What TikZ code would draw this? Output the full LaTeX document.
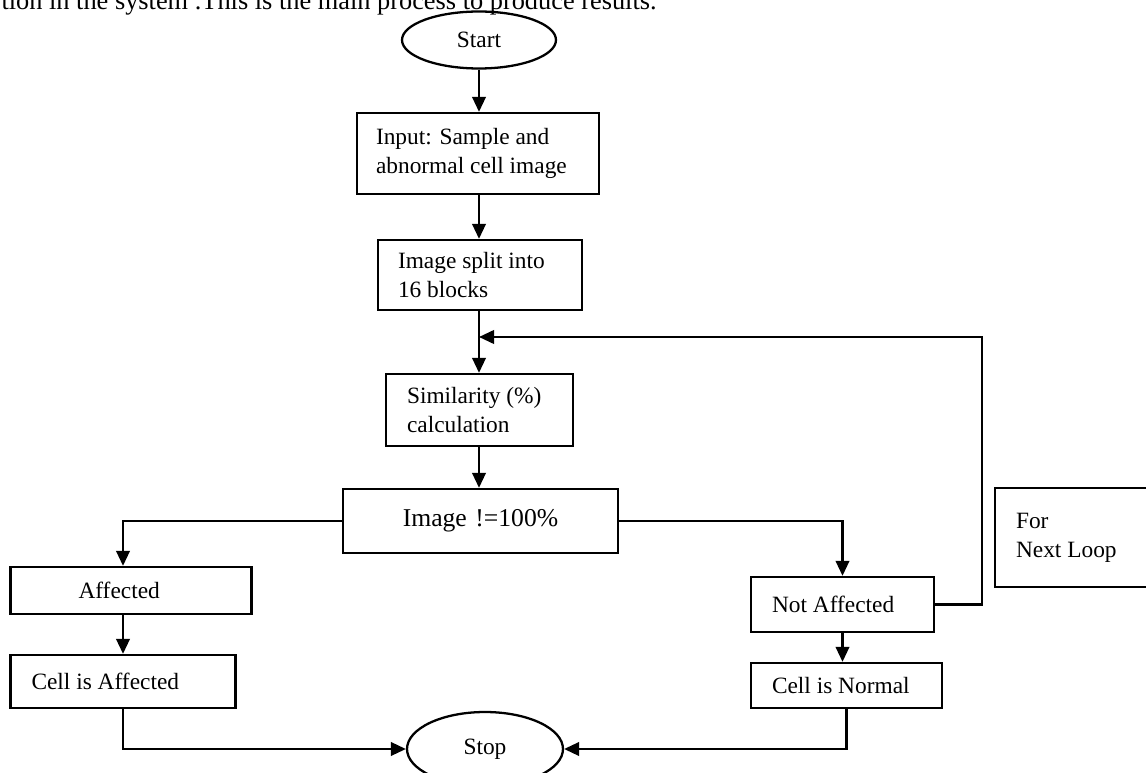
\documentclass[tikz,border=0pt]{standalone}
\usepackage{fontspec}
\setmainfont{Liberation Serif}
\usetikzlibrary{arrows.meta,shapes.geometric}

\tikzset{
    box/.style={draw, line width=1.3pt, align=flush left, inner xsep=0.42cm, inner ysep=0pt,
        font=\fontsize{13.3}{16.5}\selectfont},
    term/.style={draw, ellipse, line width=1.3pt, inner sep=0pt,
        font=\fontsize{13.3}{16.5}\selectfont},
    flow/.style={line width=1.3pt, -{Triangle[length=0.3cm,width=0.27cm]}},
    plain/.style={line width=1.3pt}
}

\begin{document}
\begin{tikzpicture}[x=0.02cm, y=-0.02cm]
        % Fix the page size (pixel grid of the figure)
        \useasboundingbox (0,0) rectangle (1146,773);

        % Running text cut off at the top
        \node[anchor=base east, inner sep=0pt, font=\fontsize{15}{18}\selectfont] (toptext) at (657,10)
            {tion in the system .This is the main process to produce results.};

        % Start and stop
        \node[term, minimum width=3.08cm, minimum height=1.14cm] (start) at (479,40) {Start};
        \node[term, minimum width=3.12cm, minimum height=1.48cm] (stop) at (485,749) {Stop};

        % Main column
        \node[box, inner xsep=0.38cm, text width=4.08cm, minimum height=1.62cm] (input) at (478,153.5)
            {Input: Sample and\\abnormal cell image};
        \node[box, inner xsep=0.40cm, text width=3.28cm, minimum height=1.40cm] (split) at (480,275)
            {Image split into\\16 blocks};
        \node[box, text width=2.90cm, minimum height=1.44cm] (sim) at (479.5,410)
            {Similarity (\%)\\calculation};
        \node[box, align=center, text width=4.66cm, minimum height=1.28cm,
            font=\fontsize{14.6}{17}\selectfont] (image) at (480.5,521) {Image !=100\%};

        % Left branch
        \node[box, inner xsep=1.36cm, text width=2.10cm, minimum height=0.94cm] (affected) at (131,590.5)
            {Affected};
        \node[box, text width=3.66cm, minimum height=1.06cm] (cellaff) at (123,681.5)
            {Cell is Affected};

        % Right branch
        \node[box, text width=2.82cm, minimum height=1.10cm] (notaff) at (842.5,604.5)
            {Not Affected};
        \node[box, text width=2.98cm, minimum height=0.90cm] (cellnorm) at (846.5,685.5)
            {Cell is Normal};

        % Loop note
        \node[box, text width=2.46cm, minimum height=1.98cm] (forloop) at (1077.5,537.5)
            {For\\Next Loop};

        % Connectors down the middle
        \draw[flow] (start.south) -- (input.north -| start.south);
        \draw[flow] (input.south -| start.south) -- (split.north -| start.south);
        \draw[flow] (split.south -| start.south) -- (sim.north -| start.south);
        \draw[flow] (sim.south -| start.south) -- (image.north -| start.south);

        % Decision branches
        \draw[flow] (image.west) -| (affected.north -| cellaff.north);
        \draw[flow] (affected.south -| cellaff.north) -- (cellaff.north);
        \draw[flow] (cellaff.south) |- (stop.west);
        \draw[flow] (image.east) -| (notaff.north);
        \draw[flow] (notaff.south) -- (cellnorm.north -| notaff.south);
        \draw[flow] (cellnorm.south) |- (stop.east);

        % Back to the similarity step
        \coordinate (loopcorner) at (982,337);
        \draw[flow] (notaff.east) -| (loopcorner) -- (loopcorner -| start.south);

\end{tikzpicture}
\end{document}
